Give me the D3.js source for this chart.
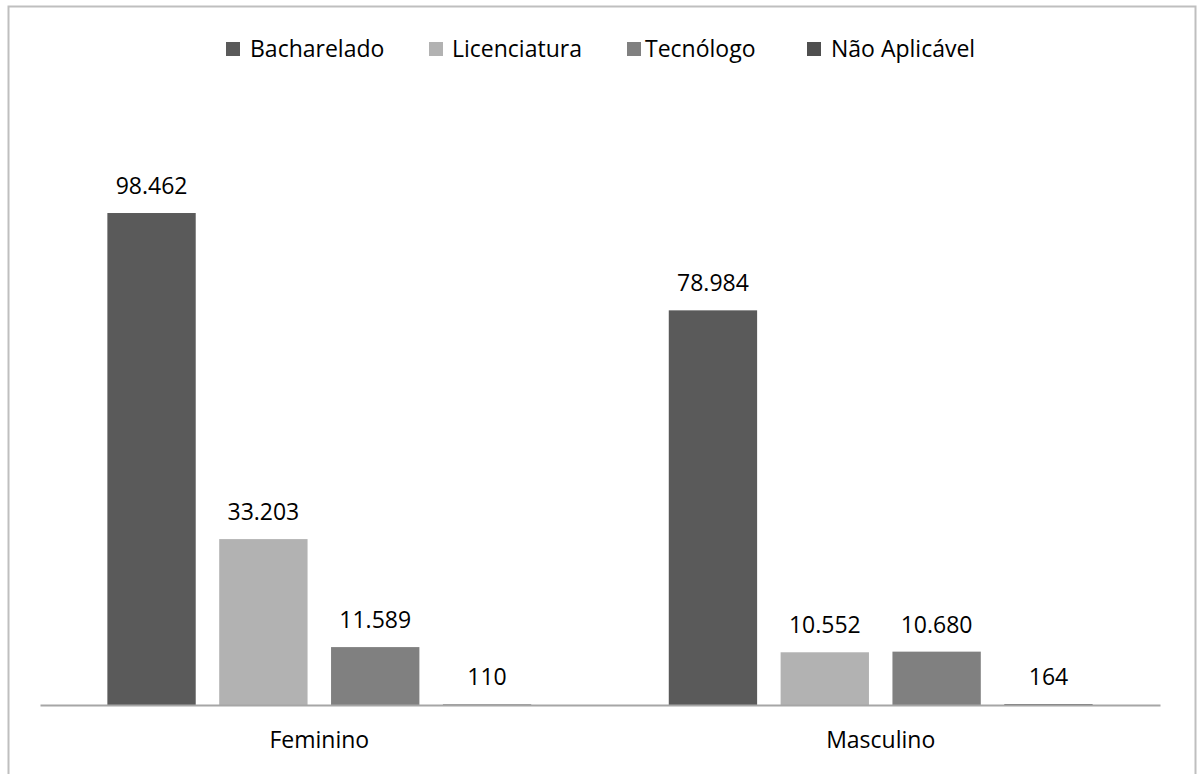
<!DOCTYPE html>
<html><head><meta charset="utf-8">
<script src="https://cdn.jsdelivr.net/npm/d3@7"></script>
<style>body{margin:0;background:#fff;} svg{display:block;}</style>
</head><body>
<svg id="c" width="1198" height="774"></svg>
<script>
const categories = ["Feminino", "Masculino"];
const seriesNames = ["Bacharelado", "Licenciatura", "Tecnólogo", "Não Aplicável"];
const bacharelado = [98462, 78984];
const licenciatura = [33203, 10552];
const tecnologo = [11589, 10680];
const naoAplicavel = [110, 164];
const seriesColors = ["#5a5a5a", "#b2b2b2", "#808080", "#4f4f4f"];
const fmt = v => d3.format(",")(v).replace(/,/g, ".");

const values = [bacharelado, licenciatura, tecnologo, naoAplicavel];
const svg = d3.select("#c");
const font = "'Open Sans', 'Noto Sans', sans-serif";
const fs = 23;

svg.append("rect").attr("x", 8.5).attr("y", 6.5).attr("width", 1187).attr("height", 780)
  .attr("fill", "#fff").attr("stroke", "#bfbfbf").attr("stroke-width", 2);

const x0 = d3.scaleBand().domain(categories).range([40, 1160]).paddingInner(0.245).paddingOuter(0.12);
const x1 = d3.scaleBand().domain(seriesNames).range([0, x0.bandwidth()]).paddingInner(0.21).paddingOuter(0);
const y = d3.scaleLinear().domain([0, 120000]).range([705, 105.4]);

categories.forEach((cat, ci) => {
  const g = svg.append("g").attr("transform", `translate(${x0(cat)},0)`);
  seriesNames.forEach((s, si) => {
    const v = values[si][ci];
    g.append("rect").attr("x", x1(s)).attr("y", y(v)).attr("width", x1.bandwidth())
      .attr("height", y(0) - y(v)).attr("fill", seriesColors[si]);
    g.append("text").attr("x", x1(s) + x1.bandwidth() / 2).attr("y", y(v) - 19)
      .attr("text-anchor", "middle").attr("font-family", font).attr("font-size", fs)
      .attr("fill", "#000").text(fmt(v));
  });
});

const xAxis = svg.append("g").attr("transform", "translate(0,705)")
  .call(d3.axisBottom(x0).tickSize(0).tickPadding(27));
xAxis.select(".domain").attr("stroke", "#a6a6a6").attr("stroke-width", 2);
xAxis.selectAll("text").attr("font-family", font).attr("font-size", fs).attr("fill", "#000");

const legendSq = [226, 429, 627, 807];
const legendTx = [250, 452, 645, 831];
const lg = svg.append("g");
seriesNames.forEach((s, i) => {
  lg.append("rect").attr("x", legendSq[i]).attr("y", 42).attr("width", 14).attr("height", 14).attr("fill", seriesColors[i]);
  lg.append("text").attr("x", legendTx[i]).attr("y", 57).attr("font-family", font)
    .attr("font-size", fs).attr("fill", "#000").text(s);
});
</script>
</body></html>
